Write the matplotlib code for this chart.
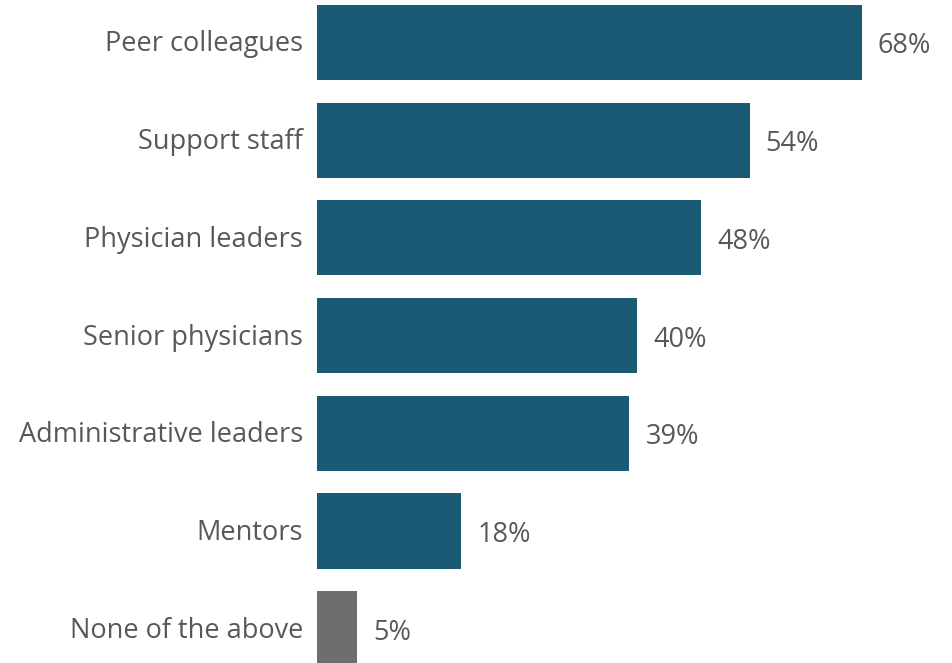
import matplotlib
matplotlib.use("Agg")
import matplotlib.pyplot as plt

categories = ["Peer colleagues", "Support staff", "Physician leaders",
              "Senior physicians", "Administrative leaders", "Mentors",
              "None of the above"]
values = [68, 54, 48, 40, 39, 18, 5]
value_labels = ["68%", "54%", "48%", "40%", "39%", "18%", "5%"]

BLUE = "#1b5a75"
GRAY = "#6e6e70"
TEXT = "#58585a"
colors = [BLUE] * 6 + [GRAY]

W, H = 953, 663
fig = plt.figure(figsize=(W / 100, H / 100), dpi=100)
left_px = 317
px_per_unit = 8.01
ax = fig.add_axes([left_px / W, 0, (W - left_px) / W, 1])
ax.set_xlim(0, (W - left_px) / px_per_unit)

pitch = 97.7
top_center = 42.5
ax.set_ylim((H - top_center) / pitch, -top_center / pitch)

ypos = list(range(len(categories)))
ax.barh(ypos, values, height=0.768, color=colors, left=0)

font = "Open Sans"
size = 19.5
for y, v, lab, cat in zip(ypos, values, value_labels, categories):
    ax.text(v + 16 / px_per_unit, y + 0.04, lab, ha="left", va="center",
            fontsize=size, color=TEXT, family=font)
    ax.text(-14 / px_per_unit, y + 0.02, cat, ha="right", va="center",
            fontsize=size, color=TEXT, family=font, clip_on=False)

ax.axis("off")
fig.savefig("out.png", dpi=100)
